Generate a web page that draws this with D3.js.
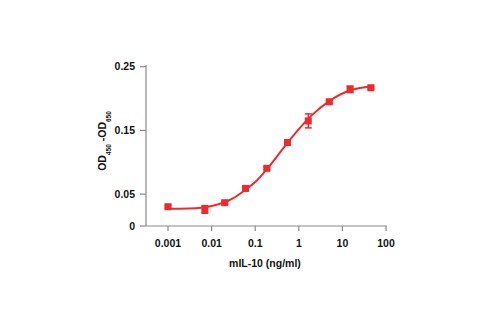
<!DOCTYPE html>
<html><head><meta charset="utf-8">
<script src="https://cdn.jsdelivr.net/npm/d3@7"></script>
<style>
body{margin:0;background:#fff;}
text{font-family:"Liberation Sans Narrow","Liberation Sans",Arial,sans-serif;font-weight:bold;fill:#111;}
</style></head>
<body>
<svg id="c" width="488" height="328"></svg>
<script>
// data
const concentrations = [0.001, 0.007, 0.02, 0.06, 0.185, 0.55, 1.65, 5, 15, 45];
const odValues      = [0.0303, 0.026, 0.0366, 0.059, 0.0905, 0.131, 0.165, 0.195, 0.2146, 0.217];
const odErrors      = [0.002, 0.006, 0.002, 0.004, 0.002, 0.004, 0.011, 0.002, 0.005, 0.002];
const curveX = [0.001, 0.003, 0.01, 0.03, 0.06, 0.1, 0.2, 0.5, 1, 2, 5, 15, 45];
const curveY = [0.027, 0.0275, 0.0315, 0.043, 0.057, 0.069, 0.092, 0.127, 0.152, 0.174, 0.196, 0.213, 0.219];
const xTicks = [0.001, 0.01, 0.1, 1, 10, 100];
const xTickLabels = ["0.001", "0.01", "0.1", "1", "10", "100"];
const yTicks = [0, 0.05, 0.15, 0.25];
const yTickLabels = ["0", "0.05", "0.15", "0.25"];
const xTitle = "mIL-10 (ng/ml)";

const red = "#f02a2c";
const svg = d3.select("#c");
const x = d3.scaleLog().domain([0.001, 100]).range([168, 386]);
const y = d3.scaleLinear().domain([0, 0.25]).range([226, 66.7]);

// axes
const axisColor = "#8a8a8a";
svg.append("line").attr("x1",146).attr("x2",146).attr("y1",65).attr("y2",226).attr("stroke",axisColor).attr("stroke-width",1.2);
svg.append("line").attr("x1",146).attr("x2",387).attr("y1",226).attr("y2",226).attr("stroke",axisColor).attr("stroke-width",1.2);

xTicks.forEach((t,i)=>{
  svg.append("line").attr("x1",x(t)).attr("x2",x(t)).attr("y1",226).attr("y2",231).attr("stroke",axisColor).attr("stroke-width",1.2);
  svg.append("text").attr("x",x(t)).attr("y",246.5).attr("text-anchor","middle").attr("font-size",10.5).text(xTickLabels[i]);
});
yTicks.forEach((t,i)=>{
  svg.append("line").attr("x1",140).attr("x2",146).attr("y1",y(t)).attr("y2",y(t)).attr("stroke",axisColor).attr("stroke-width",1.2);
  svg.append("text").attr("x",135).attr("y",y(t)+3.6).attr("text-anchor","end").attr("font-size",10.5).text(yTickLabels[i]);
});

svg.append("text").attr("x",265).attr("y",267).attr("text-anchor","middle").attr("font-size",10.5).text(xTitle);

// y title with subscripts
const yt = svg.append("text").attr("transform","translate(106,141) rotate(-90)").attr("text-anchor","middle").attr("font-size",10.5);
yt.append("tspan").text("OD");
yt.append("tspan").attr("font-size",6.5).attr("dy",5).text("450");
yt.append("tspan").attr("dy",-5).text(" -OD");
yt.append("tspan").attr("font-size",6.5).attr("dy",5).text("650");

// curve
const pts = curveX.map((c,i)=>[c,curveY[i]]);
svg.append("path").datum(pts)
  .attr("d", d3.line().x(d=>x(d[0])).y(d=>y(d[1])).curve(d3.curveMonotoneX))
  .attr("fill","none").attr("stroke",red).attr("stroke-width",2);

// error bars and markers
concentrations.forEach((c,i)=>{
  const cx = x(c), v = odValues[i], e = odErrors[i];
  const g = svg.append("g").attr("stroke",red).attr("stroke-width",1.5);
  g.append("line").attr("x1",cx).attr("x2",cx).attr("y1",y(v+e)).attr("y2",y(v-e));
  g.append("line").attr("x1",cx-3.5).attr("x2",cx+3.5).attr("y1",y(v+e)).attr("y2",y(v+e));
  g.append("line").attr("x1",cx-3.5).attr("x2",cx+3.5).attr("y1",y(v-e)).attr("y2",y(v-e));
  svg.append("rect").attr("x",cx-3.5).attr("y",y(v)-3.5).attr("width",7).attr("height",7).attr("fill",red);
});
</script>
</body></html>
